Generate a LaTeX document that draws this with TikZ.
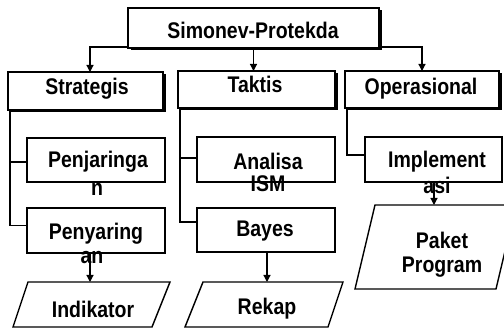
\documentclass[tikz,border=0pt]{standalone}
\usepackage{fontspec}
\setmainfont{Liberation Sans}
\usetikzlibrary{arrows.meta,shadows}
% labels are set in a bold sans, stretched a little upright
\newcommand\tallword[1]{\scalebox{1}[1.16]{#1}}
\begin{document}
\begin{tikzpicture}[x=1pt,y=-1pt,
  line width=1.2pt,
  box/.style={draw,fill=white,rectangle,inner sep=0pt,outer sep=0pt,
    drop shadow={shadow xshift=2.5pt,shadow yshift=-2.5pt,fill=black,opacity=1}},
  subbox/.style={draw,fill=white,rectangle,inner sep=0pt,outer sep=0pt,
    drop shadow={shadow xshift=1.2pt,shadow yshift=-1.2pt,fill=black,opacity=1}},
  lbl/.style={inner sep=0pt,font=\fontsize{19.5}{22}\selectfont\bfseries},
  para/.style={line width=1.4pt},
  arr/.style={-{Triangle[length=7pt,width=7pt]}},
  link/.style={line width=1.2pt}]
\useasboundingbox (0,0) rectangle (504,328);
\clip (0,0) rectangle (504,328);

% level 0 and level 1 boxes
\node[box,minimum width=251pt,minimum height=40pt] (top) at (253.5,28) {};
\node[box,minimum width=155pt,minimum height=38pt] (strat) at (85.5,91) {};
\node[box,minimum width=157pt,minimum height=37pt] (takt) at (256.5,89.5) {};
\node[box,minimum width=154pt,minimum height=37pt] (oper) at (422,89.5) {};

% level 2 boxes
\node[subbox,minimum width=138pt,minimum height=44pt] (penj) at (96,160) {};
\node[subbox,minimum width=138pt,minimum height=45pt] (peny) at (96,230.5) {};
\node[subbox,minimum width=138pt,minimum height=45pt] (anal) at (266,159.5) {};
\node[subbox,minimum width=138pt,minimum height=44pt] (bayes) at (266,230) {};
\node[subbox,minimum width=137pt,minimum height=45pt] (impl) at (433.5,159.5) {};

% output parallelograms
\draw[para] (28,282) -- (170,282) -- (152,327) -- (13,327) -- cycle;
\draw[para] (203,282) -- (343,282) -- (328,327) -- (185,327) -- cycle;
\draw[para] (375,205) -- (516,205) -- (496,289) -- (355,289) -- cycle;
\coordinate (indIn) at (90,282);
\coordinate (rekIn) at (267,282);
\coordinate (pakIn) at (434,205);

% column spines
\coordinate (sx) at (10,0);
\coordinate (tx) at (180,0);
\coordinate (ox) at (347,0);

% labels
\node[lbl] (tTop) at (253,30) {\tallword{Simonev-Protekda}};
\node[lbl] (tStrat) at (87,89) {\tallword{Strategis}};
\node[lbl] (tTakt) at (255,84) {\tallword{Taktis}};
\node[lbl] (tOper) at (421,89) {\tallword{Operasional}};
\node[lbl] (tPenj1) at (98,162) {\tallword{Penjaringa}};
\node[lbl] (tPenj2) at (97,189) {\tallword{n}};
\node[lbl] (tPeny1) at (96,234) {\tallword{Penyaring}};
\node[lbl] (tPeny2) at (92,258) {\tallword{an}};
\node[lbl] (tAnal1) at (268,161) {\tallword{Analisa}};
\node[lbl] (tAnal2) at (268,184) {\tallword{ISM}};
\node[lbl] (tBayes) at (265,231) {\tallword{Bayes}};
\node[lbl] (tImpl1) at (437,162) {\tallword{Implement}};
\node[lbl] (tImpl2) at (437,185) {\tallword{asi}};
\node[lbl] (tInd) at (93,309) {\tallword{Indikator}};
\node[lbl] (tRek) at (267,309) {\tallword{Rekap}};
\node[lbl] (tPak1) at (442,240) {\tallword{Paket}};
\node[lbl] (tPak2) at (442,267) {\tallword{Program}};

% top-level arrows
\draw[link,arr] ([yshift=1pt]top.south west) -| ([xshift=4.5pt]strat.north);
\draw[link,arr] (top.south) -- (top.south |- takt.north);
\draw[link,arr] ([yshift=1pt]top.south east) -| (oper.north);

% spines to sub-boxes
\draw[link] (strat.south -| sx) |- ([yshift=-2pt]penj.west);
\draw[link] (strat.south -| sx) |- ([yshift=5pt]peny.west);
\draw[link] (takt.south -| tx) |- ([yshift=1.5pt]anal.west);
\draw[link] (takt.south -| tx) |- ([yshift=8pt]bayes.west);
\draw[link] (oper.south -| ox) |- ([yshift=4.5pt]impl.west);

% arrows to outputs
\draw[link,arr] (indIn |- peny.south) -- (indIn);
\draw[link,arr] (rekIn |- bayes.south) -- (rekIn);
\draw[link,arr] (pakIn |- impl.south) -- (pakIn);
\end{tikzpicture}
\end{document}
